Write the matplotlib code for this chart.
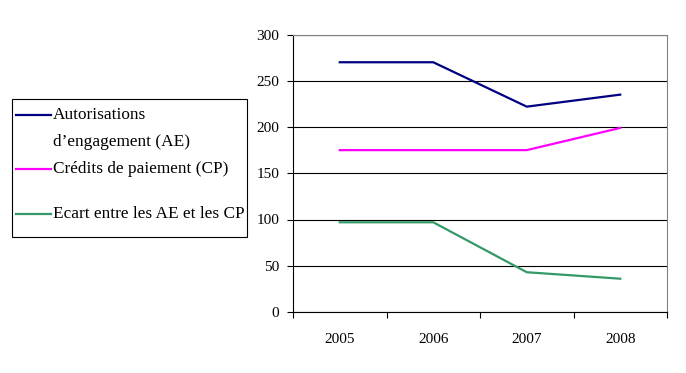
import matplotlib.pyplot as plt
from matplotlib.lines import Line2D
from matplotlib.patches import Rectangle

years = ["2005", "2006", "2007", "2008"]
ae_values = [270, 270, 222, 235]
cp_values = [175, 175, 175, 199]
ecart_values = [97, 97, 43, 36]

series_labels = [
    ["Autorisations", "d\u2019engagement (AE)"],
    ["Crédits de paiement (CP)"],
    ["Ecart entre les AE et les CP"],
]
series_colors = ["#000080", "#FF00FF", "#339966"]

W, H = 686, 373
plt.rcParams["font.family"] = ["Liberation Serif", "DejaVu Serif"]

fig = plt.figure(figsize=(W / 100, H / 100), dpi=100)
ax = fig.add_axes([293 / W, 1 - 312 / H, (667 - 293) / W, (312 - 34.5) / H])

x = range(len(years))
for values, color in zip([ae_values, cp_values, ecart_values], series_colors):
    ax.plot(x, values, color=color, linewidth=1.6, solid_joinstyle="miter")

ax.set_xlim(-0.5, len(years) - 0.5)
ax.set_ylim(0, 300)
ax.set_yticks(range(0, 301, 50))
ax.set_xticks(x)
ax.set_xticklabels(years)
ax.set_xticks([i - 0.5 for i in range(len(years) + 1)], minor=True)
ax.tick_params(axis="x", which="major", length=0, pad=15, labelsize=11)
ax.tick_params(axis="x", which="minor", length=4, width=0.8, direction="out")
ax.tick_params(axis="y", length=4, width=0.8, direction="out", pad=6, labelsize=11)
ax.yaxis.grid(True, color="black", linewidth=0.8)
ax.set_axisbelow(True)
for side in ["top", "right"]:
    ax.spines[side].set_color("#808080")
    ax.spines[side].set_linewidth(0.8)
for side in ["left", "bottom"]:
    ax.spines[side].set_color("black")
    ax.spines[side].set_linewidth(0.8)


def fx(px):
    return px / W


def fy(py):
    return 1 - py / H


# legend box drawn by hand to keep the odd spacing of the original
fig.patches.append(
    Rectangle((fx(12), fy(237)), fx(247) - fx(12), fy(99) - fy(237),
              transform=fig.transFigure, facecolor="white",
              edgecolor="black", linewidth=0.8)
)
legend_rows = [115, 169, 214]
line_step = 27
for lines, color, row in zip(series_labels, series_colors, legend_rows):
    fig.add_artist(Line2D([fx(16), fx(51)], [fy(row), fy(row)],
                          transform=fig.transFigure, color=color, linewidth=1.6))
    for k, line in enumerate(lines):
        fig.text(fx(53), fy(row + k * line_step), line, fontsize=12.4,
                 va="center", ha="left")

fig.savefig("out.png", dpi=100)
